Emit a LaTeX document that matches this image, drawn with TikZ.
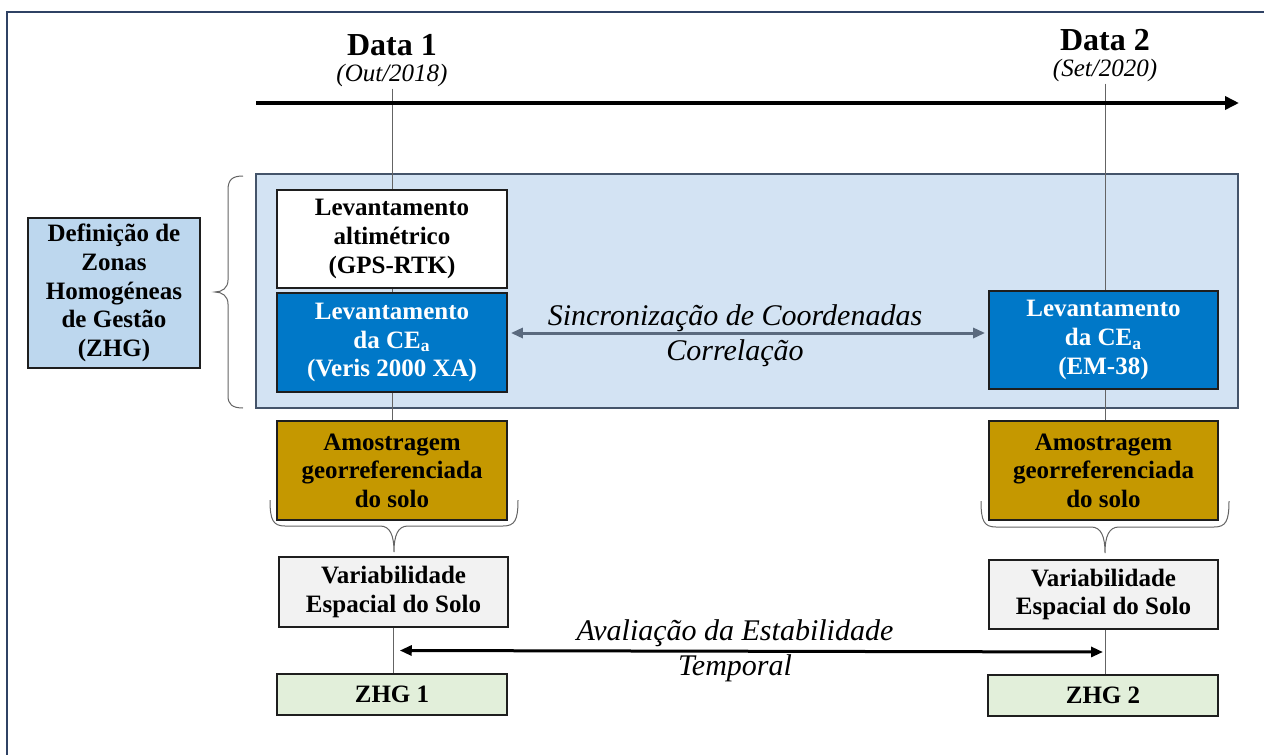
\documentclass[tikz,border=0pt]{standalone}
\usepackage{fontspec}
\setmainfont{Liberation Serif}
\usetikzlibrary{arrows.meta,calc}
\definecolor{framec}{RGB}{47,66,100}
\definecolor{bigfill}{RGB}{211,227,243}
\definecolor{bigdraw}{RGB}{68,84,106}
\definecolor{zhgfill}{RGB}{189,215,238}
\definecolor{ceafill}{RGB}{0,120,200}
\definecolor{amfill}{RGB}{197,152,0}
\definecolor{varfill}{RGB}{242,242,242}
\definecolor{greenfill}{RGB}{226,239,218}
\definecolor{arrowgray}{RGB}{90,106,126}
\definecolor{linegray}{RGB}{100,100,100}
\definecolor{boxdraw}{RGB}{30,30,30}
\pgfdeclarelayer{back}
\pgfdeclarelayer{mid}
\pgfsetlayers{back,mid,main}
\begin{document}
\begin{tikzpicture}[x=0.5pt,y=-0.5pt,
  box/.style={draw=boxdraw,line width=0.9pt,align=center,inner sep=0pt,
    font=\fontsize{12.5}{14.3}\selectfont\bfseries},
  datelbl/.style={font=\fontsize{16}{18}\selectfont\bfseries,inner sep=0pt},
  datesub/.style={font=\fontsize{12.5}{13}\selectfont\itshape,inner sep=1pt},
  itlbl/.style={font=\fontsize{15}{17.5}\selectfont\itshape,align=center,inner sep=0pt},
  vline/.style={draw=linegray,line width=0.5pt},
  bracel/.style={draw=linegray,line width=0.5pt}]
\useasboundingbox (0,0) rectangle (1264,755);
\begin{pgfonlayer}{back}
\fill[white] (0,0) rectangle (1264,755);
\end{pgfonlayer}
\draw[framec,line width=1pt] (7,770) -- (7,12) -- (1280,12);

% dates
\node[datelbl] (d1) at (392,45) {Data 1};
\node[datesub] (d1s) at (392,75) {(Out/2018)};
\node[datelbl] (d2) at (1105,40) {Data 2};
\node[datesub] (d2s) at (1105,70) {(Set/2020)};

% timeline
\coordinate (tl0) at (256,103);
\coordinate (tl1) at (1239,103);
\draw[line width=2.2pt,-{Triangle[length=7pt,width=6.5pt]}] (tl0) -- (tl1);

% big region
\begin{pgfonlayer}{back}
\node[draw=bigdraw,fill=bigfill,line width=0.8pt,minimum width=491pt,minimum height=117pt,inner sep=0pt] (big) at (747,291) {};
\end{pgfonlayer}

% boxes
\node[box,fill=zhgfill,minimum width=86pt,minimum height=75pt] (def) at (114,293)
  {Definição de\\Zonas\\Homogéneas\\de Gestão\\(ZHG)};
\node[box,fill=white,minimum width=115pt,minimum height=49pt] (alt) at (392,239)
  {Levantamento\\altimétrico\\(GPS-RTK)};
\node[box,fill=ceafill,text=white,minimum width=115pt,minimum height=49.5pt] (cea1) at (392,342.5)
  {Levantamento\\da CE\textsubscript{a}\\(Veris 2000 XA)};
\node[box,fill=ceafill,text=white,minimum width=114.5pt,minimum height=49pt] (cea2) at (1103.5,340)
  {Levantamento\\da CE\textsubscript{a}\\(EM-38)};
\node[box,fill=amfill,minimum width=115pt,minimum height=49.5pt] (am1) at (392,470.5)
  {Amostragem\\georreferenciada\\do solo};
\node[box,fill=amfill,minimum width=114.5pt,minimum height=49.5pt] (am2) at (1103.5,470.5)
  {Amostragem\\georreferenciada\\do solo};
\node[box,fill=varfill,minimum width=114.5pt,minimum height=35pt] (var1) at (393.5,592)
  {Variabilidade\\Espacial do Solo};
\node[box,fill=varfill,minimum width=114.5pt,minimum height=34.5pt] (var2) at (1103.5,594.5)
  {Variabilidade\\Espacial do Solo};
\node[box,fill=greenfill,minimum width=115pt,minimum height=20.5pt] (zhg1) at (392,694.5) {ZHG 1};
\node[box,fill=greenfill,minimum width=115pt,minimum height=20.5pt] (zhg2) at (1103,695.5) {ZHG 2};

% vertical lines
\begin{pgfonlayer}{mid}
\draw[vline] (d1s.south) -- (d1s.south |- am1.north);
\draw[vline] (d2s.south) -- (d2s.south |- am2.north);
\end{pgfonlayer}
\draw[vline] (var1.south) -- (var1.south |- zhg1.north);
\draw[vline] (d2s.south |- var2.south) -- (d2s.south |- zhg2.north);

% left brace
\draw[bracel] (243,176) .. controls (232,176) and (228,180) .. (228,190) -- (228,280)
  .. controls (228,288) and (222,292) .. (215,292)
  .. controls (222,292) and (228,296) .. (228,304) -- (228,396)
  .. controls (228,404) and (232,408) .. (243,408);

% bottom braces
\draw[bracel] (270,500) .. controls (270,520) and (273,526) .. (285,526) -- (380,526)
  .. controls (390,526) and (394,535) .. (394,552)
  .. controls (394,535) and (398,526) .. (408,526) -- (503,526)
  .. controls (515,526) and (518,520) .. (518,500);
\draw[bracel] (981,501) .. controls (981,521) and (984,527) .. (996,527) -- (1091,527)
  .. controls (1101,527) and (1105,536) .. (1105,553)
  .. controls (1105,536) and (1109,527) .. (1119,527) -- (1214,527)
  .. controls (1226,527) and (1229,521) .. (1229,501);

% synchronisation arrow
\draw[arrowgray,line width=1.5pt,{Triangle[length=6pt,width=5pt]}-{Triangle[length=6pt,width=5pt]}]
  ([shift={(3,-9.5)}]cea1.east) -- ([shift={(-3,-7)}]cea2.west);
\node[itlbl] (sync) at (735,336) {Sincronização de Coordenadas\\Correlação};

% temporal arrow
\coordinate (t1) at ($(var1.south)!0.5!(zhg1.north)$);
\coordinate (t2) at ($(d2s.south |- var2.south)!0.5!(d2s.south |- zhg2.north)$);
\draw[line width=1.5pt,{Triangle[length=6pt,width=5pt]}-{Triangle[length=6pt,width=5pt]}]
  ([xshift=3.5pt]t1) -- ([xshift=-1pt]t2);
\node[itlbl] (aval) at (735,651) {Avaliação da Estabilidade\\Temporal};
\end{tikzpicture}
\end{document}
